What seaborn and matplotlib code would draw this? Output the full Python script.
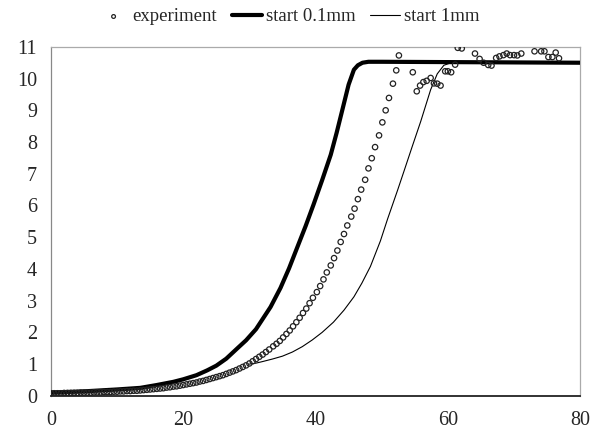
import numpy as np
import pandas as pd
import matplotlib
matplotlib.use('Agg')
import matplotlib.pyplot as plt
import seaborn as sns

# experiment, low part on a 0.5 grid
exp_x_low = np.arange(0, 33.5, 0.5)
exp_y_low = [0.08, 0.08, 0.08, 0.08, 0.09, 0.09, 0.09, 0.09, 0.09, 0.10,
             0.10, 0.10, 0.10, 0.11, 0.11, 0.11, 0.12, 0.12, 0.12, 0.13,
             0.13, 0.14, 0.14, 0.15, 0.15, 0.16, 0.16, 0.17, 0.18, 0.19,
             0.20, 0.21, 0.22, 0.23, 0.24, 0.26, 0.27, 0.29, 0.30, 0.32,
             0.34, 0.36, 0.38, 0.40, 0.42, 0.45, 0.47, 0.50, 0.53, 0.56,
             0.59, 0.62, 0.65, 0.69, 0.73, 0.77, 0.81, 0.86, 0.91, 0.96,
             1.02, 1.09, 1.16, 1.23, 1.30, 1.38, 1.46]

# experiment, upper part (read point by point)
exp_x_high = [33.6, 34.1, 34.6, 35.1, 35.6, 36.1, 36.6, 37.1, 37.6, 38.1,
              38.6, 39.1, 39.6, 40.2, 40.7, 41.2, 41.7, 42.3, 42.8, 43.3,
              43.8, 44.3, 44.8, 45.4, 45.9, 46.4, 46.9, 47.5, 48.0, 48.5,
              49.0, 49.6, 50.1, 50.6, 51.1, 51.7, 52.2, 52.6, 54.7, 55.3,
              55.8, 56.3, 56.8, 57.4, 57.9, 58.4, 58.9, 59.6, 60.0, 60.5,
              61.1, 61.5, 62.1, 64.1, 64.8, 65.4, 66.1, 66.6, 67.3, 67.8,
              68.4, 68.9, 69.4, 70.0, 70.5, 71.1, 73.1, 74.1, 74.6, 75.2,
              75.8, 76.3, 76.8]
exp_y_high = [1.56, 1.64, 1.73, 1.84, 1.95, 2.06, 2.19, 2.32, 2.46, 2.61,
              2.75, 2.92, 3.09, 3.27, 3.46, 3.67, 3.89, 4.11, 4.34, 4.58,
              4.85, 5.10, 5.37, 5.65, 5.90, 6.20, 6.50, 6.81, 7.17, 7.49,
              7.84, 8.21, 8.62, 9.00, 9.39, 9.84, 10.26, 10.73, 10.20, 9.60,
              9.78, 9.89, 9.93, 10.02, 9.85, 9.84, 9.78, 10.23, 10.23, 10.20,
              10.44, 10.97, 10.95, 10.79, 10.62, 10.50, 10.43, 10.41, 10.65, 10.70,
              10.74, 10.79, 10.74, 10.74, 10.73, 10.79, 10.86, 10.86, 10.86, 10.68,
              10.68, 10.82, 10.64]

# model, start 0.1mm
thick_x = [0, 5, 10, 13.5, 16, 18.5, 20, 22, 23.6, 25, 26.5, 28.2, 29.5, 31,
           33.2, 34.7, 36, 37.2, 38.5, 39.7, 41, 42.3, 43.2, 44.0, 45.0,
           45.8, 46.4, 47.1, 48, 50, 80]
thick_y = [0.1, 0.14, 0.2, 0.25, 0.34, 0.44, 0.52, 0.65, 0.8, 0.95, 1.17,
           1.5, 1.75, 2.1, 2.8, 3.4, 4.02, 4.66, 5.35, 6.03, 6.8, 7.6, 8.3,
           8.97, 9.81, 10.28, 10.42, 10.5, 10.53, 10.53, 10.5]

# model, start 1mm
thin_x = [30, 31, 32, 33.5, 35, 36.5, 38, 39.5, 41, 42.7, 44.3, 45.8, 47,
          48.3, 49.8, 50.9, 52.4, 53.4, 54.6, 55.9, 56.8, 57.4, 58.4, 59.4,
          60.5, 62, 80]
thin_y = [1.0, 1.03, 1.08, 1.16, 1.25, 1.38, 1.55, 1.76, 2.0, 2.32, 2.7,
          3.12, 3.55, 4.08, 4.88, 5.58, 6.48, 7.1, 7.85, 8.65, 9.25, 9.65,
          10.15, 10.42, 10.5, 10.52, 10.5]

exp_df = pd.DataFrame({'x': np.concatenate([exp_x_low, exp_x_high]),
                       'y': np.concatenate([exp_y_low, exp_y_high])})
thick_df = pd.DataFrame({'x': thick_x, 'y': thick_y})
thin_df = pd.DataFrame({'x': thin_x, 'y': thin_y})

sns.set_theme(style='white')
plt.rcParams['font.family'] = ['Liberation Serif', 'DejaVu Serif']

fig = plt.figure(figsize=(5.92, 4.34), dpi=100)
ax = fig.add_axes([0.086, 0.088, 0.894, 0.804])

sns.lineplot(data=thin_df, x='x', y='y', ax=ax, color='black', linewidth=0.8,
             estimator=None, sort=False, label='start 1mm', zorder=2)
sns.lineplot(data=thick_df, x='x', y='y', ax=ax, color='black', linewidth=3.0,
             estimator=None, sort=False, label='start 0.1mm', zorder=3)
sns.scatterplot(data=exp_df, x='x', y='y', ax=ax, marker='o', s=15,
                facecolor='none', edgecolor='#222222', linewidth=0.9,
                label='experiment', zorder=4)

ax.set_xlim(0, 80)
ax.set_ylim(0, 11)
ax.set_xticks([0, 20, 40, 60, 80])
ax.set_yticks(range(0, 12))
ax.set_xlabel('')
ax.set_ylabel('')
ax.tick_params(axis='both', labelsize=14.5, direction='out')
ax.tick_params(axis='y', length=6, width=0.8, color='#888888', pad=4)
ax.tick_params(axis='x', length=5, width=0.8, color='#555555', pad=6)

ax.spines['left'].set_color('#888888')
ax.spines['left'].set_linewidth(0.9)
ax.spines['bottom'].set_color('#222222')
ax.spines['bottom'].set_linewidth(1.3)
for s in ['top', 'right']:
    ax.spines[s].set_color('#aaaaaa')
    ax.spines[s].set_linewidth(0.9)

handles, labels = ax.get_legend_handles_labels()
order = [labels.index('experiment'), labels.index('start 0.1mm'), labels.index('start 1mm')]
leg = ax.legend([handles[i] for i in order], [labels[i] for i in order],
                loc='lower center', bbox_to_anchor=(0.45, 1.04), ncol=3, frameon=False,
                fontsize=13.5, handlelength=1.6, handletextpad=0.2, columnspacing=0.8,
                borderaxespad=0, markerscale=0.7)

fig.savefig('out.png', dpi=100)
